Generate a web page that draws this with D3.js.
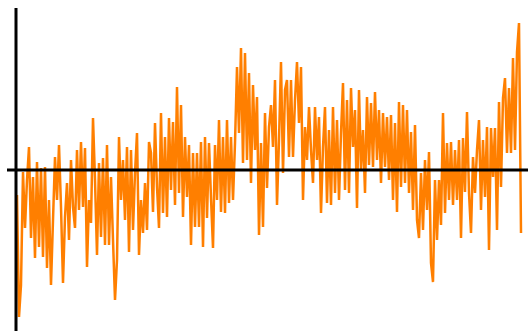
<!DOCTYPE html>
<html>
<head>
<meta charset="utf-8">
<script src="https://cdn.jsdelivr.net/npm/d3@7"></script>
<style>
html,body{margin:0;padding:0;background:#fff;overflow:hidden;}
svg{display:block;}
</style>
</head>
<body>
<svg id="chart" width="528" height="331"></svg>
<script>
// Series values (arbitrary units, zero = baseline)
const values = [
-25,-147,-115,-2,-58,-10,23,-68,-7,-88,8,-77,2,-87,3,-98,-30,-115,-50,13,
-30,25,-37,-113,-47,-13,-70,10,-37,-58,20,-40,28,-37,22,-97,-30,-53,52,-10,
-85,7,-67,12,-75,25,-75,-7,-70,-130,-90,33,-30,10,-50,23,-82,20,-60,-3,
37,-85,-30,-63,-13,-60,28,17,-42,47,-17,-58,57,-43,33,-47,52,-20,48,-35,
83,-23,65,-47,33,-27,25,-75,17,-57,17,-57,28,-77,33,-48,27,-28,-78,25,
-30,50,-42,33,-43,50,-33,33,-30,27,103,37,122,7,117,10,97,-13,85,20,
73,-65,27,-57,57,-18,43,65,23,90,-35,30,108,-3,80,90,13,90,13,70,
108,47,103,-30,43,10,63,20,-13,63,10,53,-43,23,63,-33,40,-35,63,-23,
50,-30,37,87,-20,70,-23,82,23,60,-38,80,0,40,-23,73,5,67,3,78,
10,60,-13,57,3,53,-10,55,-30,47,-42,68,-17,65,-13,60,-23,38,-40,45,
-50,-68,-3,-60,10,-40,18,-93,-112,-10,-70,-10,-55,57,-43,27,-30,28,-35,20,
-30,30,-68,32,-22,58,-23,-63,13,-23,20,50,-40,30,-27,43,-80,42,-7,42,
-60,68,-17,72,92,17,82,17,112,20,118,147,-63
];
const yDomain = [-161, 161];

const svg = d3.select("#chart");
const W = 528, H = 331;

const x = d3.scaleLinear().domain([0, values.length - 1]).range([17, 521]);
const y = d3.scaleLinear().domain(yDomain).range([331, 9]);

const line = d3.line()
  .x((d, i) => x(i))
  .y(d => y(d));

svg.append("path")
  .datum(values)
  .attr("fill", "none")
  .attr("stroke", "#ff7f00")
  .attr("stroke-width", 2.5)
  .attr("d", line);

// horizontal baseline at zero
svg.append("line")
  .attr("x1", x(0) - 10).attr("x2", W)
  .attr("y1", y(0)).attr("y2", y(0))
  .attr("stroke", "#000").attr("stroke-width", 3);

// vertical axis
svg.append("line")
  .attr("x1", x(0) - 1).attr("x2", x(0) - 1)
  .attr("y1", y(yDomain[1]) - 1).attr("y2", H)
  .attr("stroke", "#000").attr("stroke-width", 3);
</script>
</body>
</html>
